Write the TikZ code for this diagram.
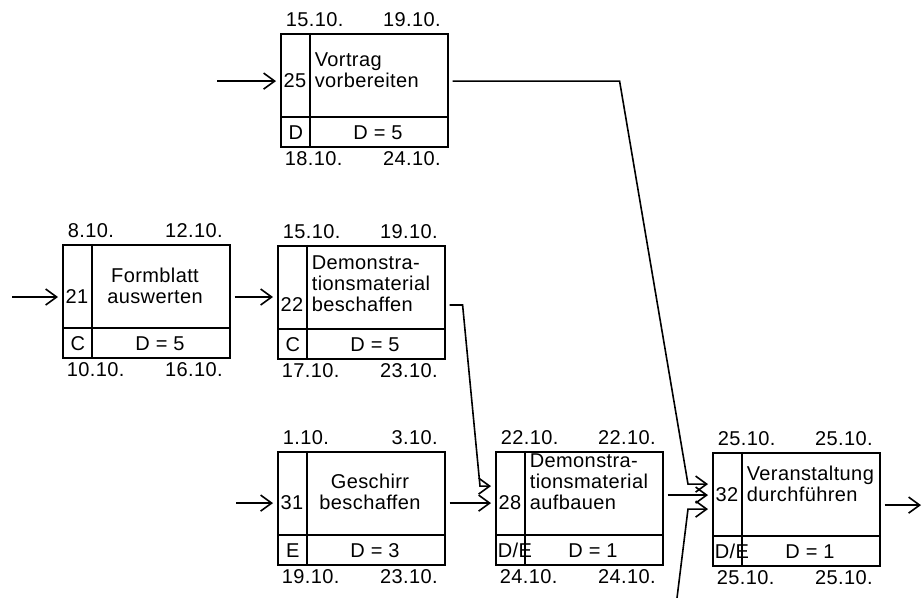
\documentclass[tikz,border=0pt]{standalone}
\usepackage{fontspec}
\setmainfont{Liberation Sans}[LetterSpace=2]
\usepackage{tikz}
\usetikzlibrary{arrows.meta, calc}

% #1 Grundlinie, #2 Name, #3 Ecke links oben, #4 Nr., #5 l/c, #6 Text, #7 Kennung, #8 Dauer
\newcommand{\vorgang}[8][58]{%
  \node[kasten] (#2) at (#3) {};
  \draw ($(#2.north west)+(30,0)$) -- ($(#2.south west)+(30,0)$);
  \draw ($(#2.north west)+(0,84)$) -- ($(#2.north east)+(0,84)$);
  \node[schrift, anchor=base] (#2nr) at ($(#2.north west)+(15,#1)$) {#4};
  \node[schrift, aus#5] (#2txt) at ($(#2.north west)+(0,#1)$) {\begin{tabular}[b]{@{}#5@{}}#6\end{tabular}};
  \node[schrift, anchor=base west] (#2kz) at ($(#2.south west)+(2,-8)$) {\hbox to 13pt{\hfil#7\hss}};
  \node[schrift, anchor=base] (#2d) at ($(#2.south west)+(98,-8)$) {D = #8};
}
% Termine: fruehester Anfang/Ende oben, spaetester Anfang/Ende unten
\newcommand{\termine}[5]{%
  \node[schrift, anchor=base west] (#1fa) at ($(#1.north west)+(5,-6)$) {#2};
  \node[schrift, anchor=base east] (#1fe) at ($(#1.north east)+(-7,-6)$) {#3};
  \node[schrift, anchor=base west] (#1sa) at ($(#1.south west)+(4,18)$) {#4};
  \node[schrift, anchor=base east] (#1se) at ($(#1.south east)+(-7,18)$) {#5};
}

\begin{document}
\begin{tikzpicture}[
  x=0.5pt, y=-0.5pt, line width=0.8pt,
  kasten/.style={draw, anchor=north west, inner sep=0pt, minimum width=83.5pt, minimum height=56.5pt},
  schrift/.style={inner sep=0pt, font=\fontsize{10}{10.5}\selectfont},
  ausl/.style={anchor=base west, xshift=17pt},
  ausc/.style={anchor=base, xshift=46.5pt},
  pfeil/.style={-{Straight Barb[length=5.5pt, width=8pt]}, shorten <=2pt, shorten >=2pt}
]
  \useasboundingbox (0,0) rectangle (923,598);

  \vorgang[55]{b25}{280,33}{25}{l}{Vortrag\\vorbereiten}{D}{5}
  \vorgang[60]{b21}{62,244}{21}{c}{Formblatt\\auswerten}{C}{5}
  \vorgang[67]{b22}{277,245}{22}{l}{Demonstra-\\tionsmaterial\\beschaffen}{C}{5}
  \vorgang[59]{b31}{277,451}{31}{c}{Geschirr\\beschaffen}{E}{3}
  \vorgang[59]{b28}{495,451}{28}{l}{Demonstra-\\tionsmaterial\\aufbauen}{D/E}{1}
  \vorgang[50]{b32}{712,452}{32}{l}{Veranstaltung\\durchführen}{D/E}{1}

  \termine{b25}{15.10.}{19.10.}{18.10.}{24.10.}
  \termine{b21}{8.10.}{12.10.}{10.10.}{16.10.}
  \termine{b22}{15.10.}{19.10.}{17.10.}{23.10.}
  \termine{b31}{1.10.}{3.10.}{19.10.}{23.10.}
  \termine{b28}{22.10.}{22.10.}{24.10.}{24.10.}
  \termine{b32}{25.10.}{25.10.}{25.10.}{25.10.}

  % freie Enden
  \coordinate (e25) at (213,0 |- b25nr);
  \coordinate (e21) at (8,0 |- b21nr);
  \coordinate (e31) at (232,0 |- b31nr);
  \coordinate (e32) at (677,598);
  \coordinate (a32) at ($(921,0 |- b32nr)+(0,10)$);

  \draw[pfeil] (e25) -- (b25.west |- e25);
  \draw[pfeil] (e21) -- (b21.west |- e21);
  \draw[pfeil] (e31) -- (b31.west |- e31);
  \draw[pfeil] (b21.east |- b21nr) -- (b22.west |- b21nr);
  \draw[pfeil] (b31.east |- b31nr) -- (b28.west |- b31nr);
  \draw[pfeil] (b22.east |- b22nr) -- ++(17,0) -- ($(b28.west |- b28nr)+(-15,-17)$) -- ++(15,0);
  \draw[pfeil] (b25.east |- b25nr) -- ++(171,0) -- ($(b32.west |- b32nr)+(-24,-11)$) -- ++(24,0);
  \draw[pfeil] (b28.east |- b32nr) -- (b32.west |- b32nr);
  \draw[pfeil, shorten <=0pt] (e32) -- ($(b32.west |- b32nr)+(-24,14)$) -- ++(24,0);
  \draw[pfeil, shorten >=0pt] (b32.east |- a32) -- (a32);
\end{tikzpicture}
\end{document}
